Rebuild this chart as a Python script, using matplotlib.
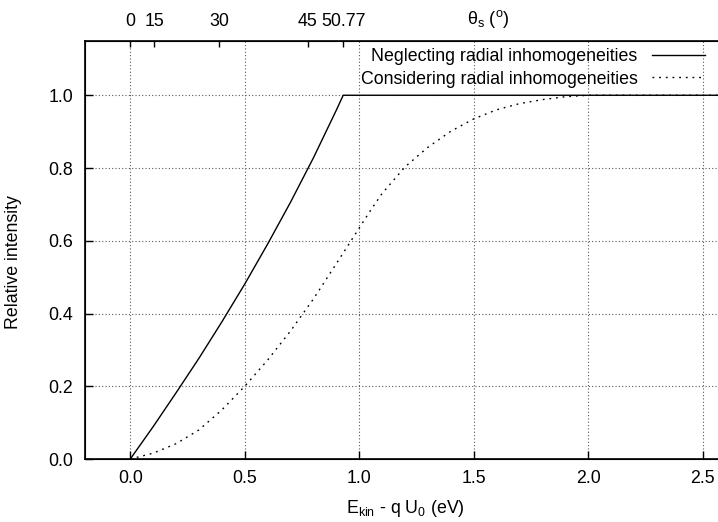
import matplotlib
matplotlib.use("Agg")
import matplotlib.pyplot as plt
import numpy as np

plt.rcParams["font.family"] = ["Liberation Sans", "DejaVu Sans"]
plt.rcParams["mathtext.default"] = "regular"

# curva sem inomogeneidades radiais
x_sem = [0.0, 0.1, 0.2, 0.3, 0.4, 0.5, 0.6, 0.7, 0.8, 0.9, 0.93, 2.6]
y_sem = [0.0, 0.089, 0.182, 0.277, 0.377, 0.481, 0.591, 0.706, 0.828, 0.959, 1.0, 1.0]

# curva com inomogeneidades radiais
x_com = [0.0, 0.1, 0.2, 0.3, 0.4, 0.5, 0.6, 0.7, 0.8, 0.9, 1.0, 1.05, 1.1,
         1.2, 1.3, 1.4, 1.5, 1.6, 1.7, 1.8, 1.9, 2.0, 2.6]
y_com = [0.0, 0.016, 0.042, 0.08, 0.135, 0.2, 0.272, 0.352, 0.44, 0.537, 0.635, 0.684, 0.73,
         0.803, 0.857, 0.901, 0.935, 0.96, 0.977, 0.988, 0.996, 1.0, 1.0]

# eixo superior: ângulo theta_s
theta_ticks = [0, 15, 30, 45, 50.77]
theta_labels = ["0", "15", "30", "45", "50.77"]
e_corte = 0.93
theta_max = 50.77


def theta_para_e(theta):
    t = np.radians(np.array(theta))
    return e_corte * np.sin(t) ** 2 / np.sin(np.radians(theta_max)) ** 2


fig = plt.figure(figsize=(7.18, 5.22), dpi=100)
ax = fig.add_axes([84.5 / 718, (522 - 459) / 522, 641 / 718, 418.3 / 522])

ax.plot(x_sem, y_sem, color="black", lw=1.0, label="Neglecting radial inhomogeneities")
ax.plot(x_com, y_com, color="black", lw=1.0, linestyle=(0, (1.3, 3.5)),
        label="Considering radial inhomogeneities")

ax.set_xlim(-0.2, 2.6)
ax.set_ylim(0, 1.15)
ax.set_xticks([0.0, 0.5, 1.0, 1.5, 2.0, 2.5])
ax.set_yticks([0.0, 0.2, 0.4, 0.6, 0.8, 1.0])
ax.set_xticklabels(["0.0", "0.5", "1.0", "1.5", "2.0", "2.5"])
ax.set_yticklabels(["0.0", "0.2", "0.4", "0.6", "0.8", "1.0"])
ax.tick_params(direction="in", length=5.5, width=1.0, labelsize=12.8, pad=8,
               top=False, right=False)
ax.grid(True, color="0.35", lw=0.8, linestyle=(0, (1, 2)))

ax.set_xlabel(r"E$_{kin}$ - q U$_0$ (eV)", fontsize=12.8, labelpad=8)
ax.set_ylabel("Relative intensity", fontsize=12.8)
ax.yaxis.set_label_coords(-0.097, 0.47)

for s in ax.spines.values():
    s.set_linewidth(1.2)

ax2 = ax.twiny()
ax2.set_xlim(ax.get_xlim())
ax2.set_xticks(theta_para_e(theta_ticks))
ax2.set_xticklabels(theta_labels)
ax2.tick_params(direction="in", length=4.5, width=1.0, labelsize=12.8, pad=8)
fig.text(488 / 718, 1 - 19 / 522, r"$\theta_s$ ($^o$)", fontsize=13,
         ha="center", va="center")

leg = ax.legend(loc="upper right", bbox_to_anchor=(705 / 718, 1 - 48 / 522),
                bbox_transform=fig.transFigure, frameon=False, markerfirst=False,
                fontsize=12.8, handlelength=3.0, handletextpad=0.8,
                labelspacing=0.32, borderaxespad=0, borderpad=0)

fig.savefig("out.png", dpi=100)
